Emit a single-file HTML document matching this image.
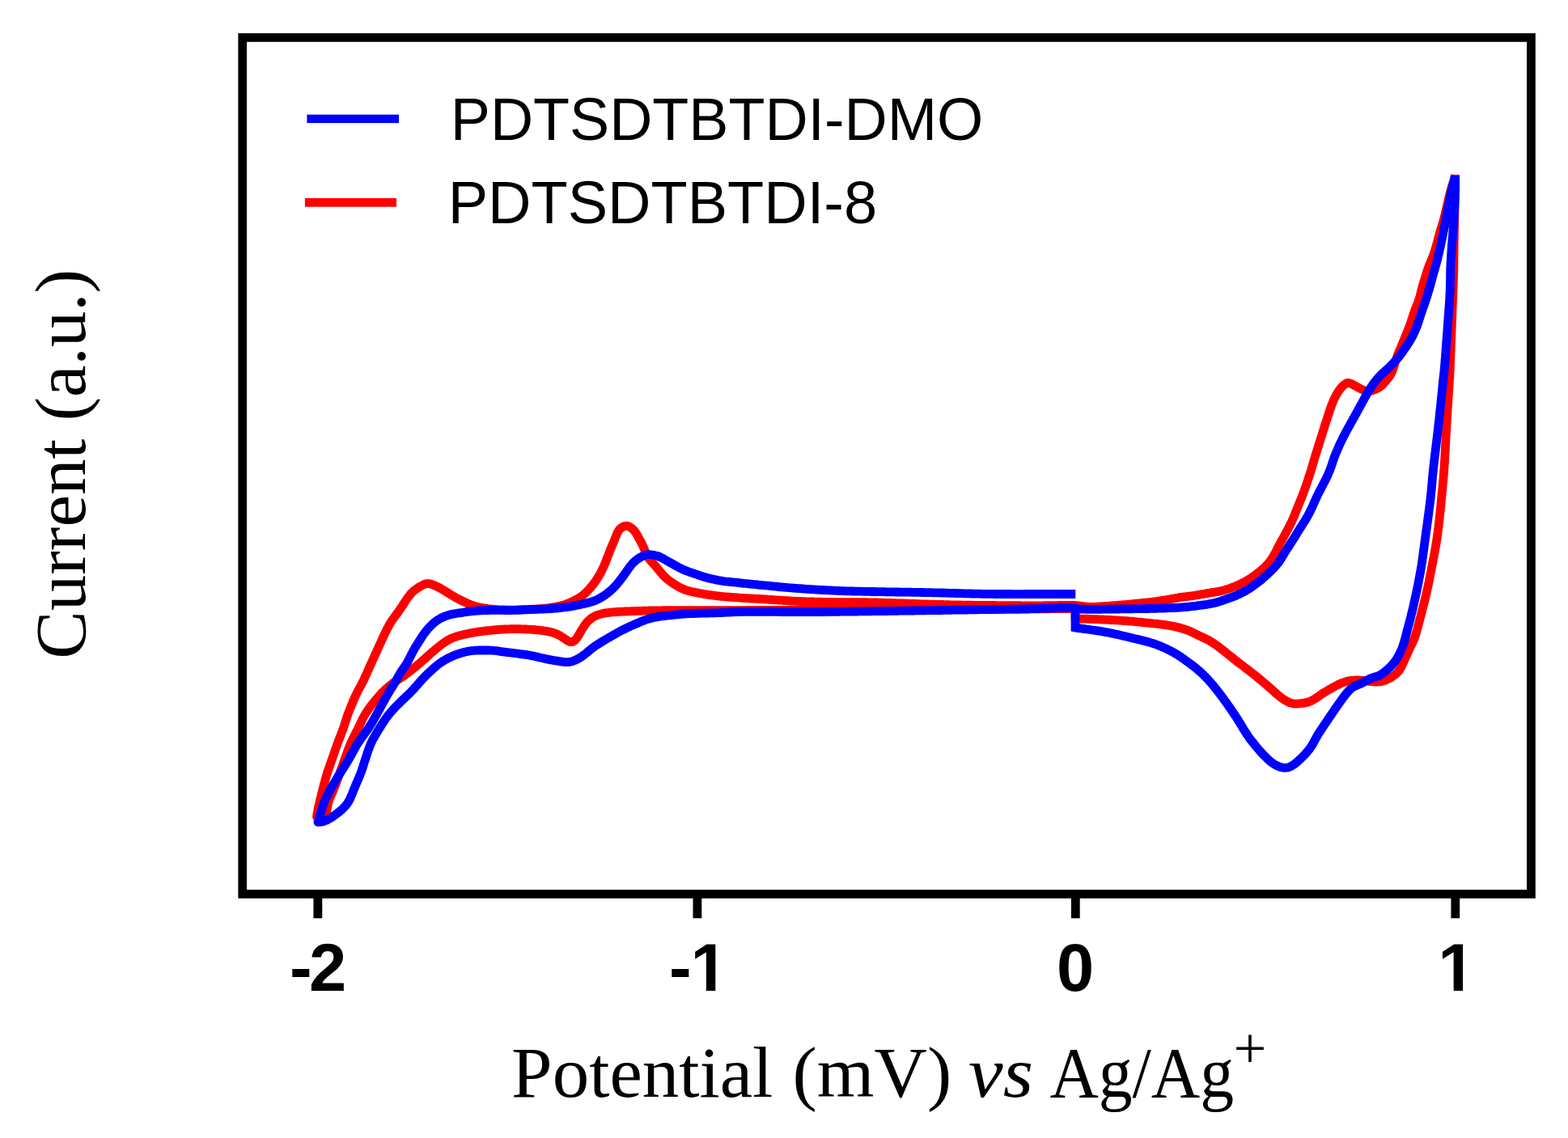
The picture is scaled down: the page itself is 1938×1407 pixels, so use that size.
<!DOCTYPE html>
<html><head><meta charset="utf-8"><title>Cyclic voltammetry: PDTSDTBTDI-DMO vs PDTSDTBTDI-8</title>
<style>
html,body{margin:0;padding:0;background:#fff;}
body{width:1938px;height:1407px;overflow:hidden;position:relative;}
svg{position:absolute;left:0;top:0;display:block;}
.leg{font-family:"Liberation Sans",Arial,sans-serif;font-size:74px;fill:#000;}
.tick{font-family:"Liberation Sans",Arial,sans-serif;font-weight:bold;font-size:83px;fill:#000;}
.lab{font-family:"Liberation Serif","Times New Roman",serif;font-size:89px;fill:#000;}
</style></head>
<body>
<svg width="1938" height="1407" viewBox="0 0 1938 1407">
<defs>
<clipPath id="one1"><rect x="800" y="1150" width="120" height="66"/><rect x="872.872" y="1214" width="11.388" height="16"/></clipPath>
<clipPath id="one2"><rect x="1740" y="1150" width="120" height="66"/><rect x="1796.672" y="1214" width="11.388" height="16"/></clipPath>
</defs>
<rect x="0" y="0" width="1938" height="1407" fill="#fff"/>
<g fill="none" stroke-width="10.8" stroke-linecap="butt">
<path d="M1798.5,216.0 1798.3,218.0 1797.9,219.9 1797.4,221.9 1796.8,223.8 1796.1,225.6 1795.5,227.5 1794.8,229.4 1794.2,231.3 1793.7,233.3 1793.1,235.2 1792.6,237.1 1792.1,239.0 1791.6,241.0 1791.1,242.9 1790.7,244.9 1790.2,246.8 1789.8,248.8 1789.3,250.7 1788.9,252.7 1788.4,254.6 1788.0,256.6 1787.5,258.5 1787.1,260.5 1786.6,262.4 1786.2,264.4 1785.7,266.3 1785.2,268.2 1784.7,270.2 1784.2,272.1 1783.7,274.0 1783.1,276.0 1782.5,277.9 1782.0,279.8 1781.4,281.7 1780.8,283.6 1780.2,285.5 1779.6,287.4 1779.1,289.4 1778.5,291.3 1778.0,293.2 1777.5,295.1 1777.0,297.1 1776.5,299.0 1776.0,300.9 1775.5,302.9 1774.9,304.8 1774.4,306.7 1773.8,308.6 1773.2,310.5 1772.6,312.4 1771.9,314.3 1771.3,316.2 1770.6,318.1 1769.8,320.0 1769.1,321.8 1768.3,323.6 1767.5,325.5 1766.7,327.3 1766.0,329.2 1765.3,331.0 1764.6,332.9 1764.0,334.8 1763.4,336.7 1762.8,338.6 1762.2,340.5 1761.6,342.4 1761.1,344.4 1760.5,346.3 1759.9,348.2 1759.3,350.1 1758.8,352.0 1758.2,353.9 1757.6,355.9 1757.1,357.8 1756.6,359.7 1756.2,361.7 1755.7,363.6 1755.2,365.5 1754.7,367.5 1754.2,369.4 1753.5,371.3 1752.9,373.1 1752.1,375.0 1751.4,376.8 1750.6,378.7 1749.9,380.5 1749.1,382.4 1748.4,384.3 1747.8,386.2 1747.1,388.0 1746.5,389.9 1745.9,391.9 1745.3,393.8 1744.7,395.7 1744.1,397.6 1743.4,399.5 1742.8,401.3 1742.1,403.2 1741.3,405.1 1740.6,406.9 1739.9,408.8 1739.1,410.6 1738.4,412.5 1737.6,414.4 1736.9,416.2 1736.1,418.1 1735.4,419.9 1734.6,421.8 1733.9,423.6 1733.1,425.5 1732.3,427.3 1731.6,429.2 1730.8,431.0 1730.0,432.8 1729.2,434.7 1728.4,436.5 1727.7,438.4 1727.0,440.2 1726.3,442.1 1725.7,444.0 1725.0,445.9 1724.4,447.8 1723.8,449.7 1723.2,451.6 1722.6,453.5 1722.0,455.4 1721.3,457.3 1720.7,459.2 1719.9,461.1 1719.0,462.8 1717.9,464.5 1716.7,466.1 1715.5,467.6 1714.3,469.2 1713.1,470.8 1711.8,472.3 1710.5,473.8 1709.2,475.3 1707.7,476.6 1706.2,477.9 1704.6,479.0 1702.9,479.9 1701.1,480.8 1699.3,481.6 1697.5,482.3 1695.6,482.9 1693.6,483.4 1691.7,483.8 1689.7,483.8 1687.8,483.4 1686.0,482.7 1684.2,481.9 1682.4,481.0 1680.6,480.1 1678.9,479.2 1677.1,478.2 1675.4,477.3 1673.6,476.3 1671.9,475.3 1670.1,474.5 1668.3,473.8 1666.4,473.4 1664.5,473.7 1662.8,474.7 1661.2,475.9 1659.7,477.2 1658.3,478.6 1657.0,480.1 1655.8,481.6 1654.7,483.2 1653.6,484.9 1652.5,486.6 1651.5,488.3 1650.6,490.1 1649.7,491.9 1648.9,493.7 1648.0,495.5 1647.3,497.4 1646.5,499.2 1645.8,501.1 1645.1,502.9 1644.4,504.8 1643.8,506.7 1643.1,508.6 1642.5,510.5 1641.9,512.4 1641.3,514.3 1640.7,516.2 1640.1,518.1 1639.5,520.0 1638.8,521.9 1638.2,523.8 1637.6,525.7 1637.0,527.6 1636.4,529.5 1635.8,531.5 1635.2,533.4 1634.6,535.3 1634.0,537.2 1633.4,539.1 1632.8,541.0 1632.2,542.9 1631.6,544.8 1631.0,546.7 1630.4,548.6 1629.8,550.5 1629.2,552.4 1628.6,554.4 1628.0,556.3 1627.4,558.2 1626.8,560.1 1626.2,562.0 1625.7,563.9 1625.1,565.8 1624.5,567.7 1623.9,569.7 1623.4,571.6 1622.8,573.5 1622.2,575.4 1621.7,577.3 1621.1,579.2 1620.5,581.2 1619.9,583.1 1619.3,585.0 1618.7,586.9 1618.1,588.8 1617.4,590.7 1616.8,592.6 1616.2,594.5 1615.5,596.4 1614.9,598.3 1614.2,600.2 1613.6,602.0 1612.9,603.9 1612.3,605.8 1611.6,607.7 1610.9,609.6 1610.2,611.4 1609.5,613.3 1608.7,615.2 1608.0,617.0 1607.2,618.9 1606.5,620.7 1605.7,622.6 1605.0,624.4 1604.2,626.3 1603.5,628.1 1602.7,630.0 1602.0,631.9 1601.2,633.7 1600.5,635.6 1599.8,637.4 1599.0,639.3 1598.2,641.1 1597.4,642.9 1596.6,644.8 1595.7,646.6 1594.8,648.4 1593.9,650.1 1593.0,651.9 1592.1,653.7 1591.1,655.4 1590.2,657.2 1589.2,659.0 1588.3,660.7 1587.3,662.5 1586.4,664.2 1585.4,666.0 1584.4,667.7 1583.4,669.5 1582.5,671.2 1581.5,673.0 1580.6,674.8 1579.7,676.5 1578.8,678.3 1577.9,680.1 1577.0,681.9 1576.1,683.7 1575.1,685.4 1574.1,687.2 1573.1,688.9 1572.0,690.6 1570.9,692.2 1569.8,693.8 1568.5,695.4 1567.3,696.9 1565.9,698.4 1564.5,699.8 1563.1,701.2 1561.7,702.6 1560.2,703.9 1558.7,705.3 1557.1,706.5 1555.6,707.8 1554.0,709.0 1552.4,710.3 1550.8,711.5 1549.2,712.6 1547.6,713.8 1545.9,714.9 1544.2,716.0 1542.5,717.0 1540.8,718.0 1539.1,719.0 1537.3,719.9 1535.5,720.8 1533.7,721.7 1531.9,722.6 1530.1,723.4 1528.3,724.2 1526.4,725.0 1524.6,725.7 1522.7,726.4 1520.8,727.1 1519.0,727.8 1517.1,728.4 1515.2,729.0 1513.2,729.6 1511.3,730.1 1509.4,730.6 1507.4,731.0 1505.5,731.4 1503.5,731.7 1501.5,732.1 1499.5,732.4 1497.6,732.7 1495.6,733.0 1493.6,733.3 1491.6,733.6 1489.7,734.0 1487.7,734.3 1485.7,734.7 1483.8,735.0 1481.8,735.4 1479.8,735.7 1477.9,736.0 1475.9,736.3 1473.9,736.6 1471.9,736.8 1469.9,737.1 1467.9,737.3 1466.0,737.6 1464.0,737.8 1462.0,738.1 1460.0,738.4 1458.0,738.7 1456.1,739.0 1454.1,739.4 1452.1,739.7 1450.2,740.1 1448.2,740.4 1446.2,740.8 1444.3,741.1 1442.3,741.5 1440.3,741.8 1438.3,742.1 1436.4,742.4 1434.4,742.7 1432.4,743.0 1430.4,743.3 1428.5,743.6 1426.5,743.8 1424.5,744.1 1422.5,744.3 1420.5,744.6 1418.5,744.8 1416.5,745.0 1414.6,745.2 1412.6,745.4 1410.6,745.6 1408.6,745.8 1406.6,746.0 1404.6,746.2 1402.6,746.4 1400.6,746.6 1398.6,746.8 1396.6,747.0 1394.6,747.2 1392.7,747.3 1390.7,747.5 1388.7,747.7 1386.7,747.9 1384.7,748.1 1382.7,748.2 1380.7,748.4 1378.7,748.6 1376.7,748.7 1374.7,748.9 1372.7,749.0 1370.7,749.2 1368.7,749.3 1366.7,749.5 1364.7,749.6 1362.7,749.7 1360.8,749.9 1358.8,750.0 1356.8,750.1 1354.8,750.2 1352.8,750.3 1350.8,750.3 1348.8,750.3 1346.8,750.3 1344.8,750.2 1342.8,750.0 1340.8,749.8 1338.9,749.6 1336.9,749.3 1334.9,749.0 1332.9,748.8 1330.9,748.6 1328.9,748.5 1326.9,748.5 1324.9,748.5 1322.9,748.5 1320.9,748.5 1318.9,748.5 1316.9,748.5 1314.9,748.5 1312.9,748.5 1310.9,748.5 1308.9,748.5 1306.9,748.6 1304.9,748.6 1302.9,748.6 1300.9,748.6 1298.9,748.7 1296.9,748.7 1294.9,748.7 1292.9,748.7 1290.9,748.7 1288.9,748.8 1286.9,748.8 1284.9,748.8 1282.9,748.8 1280.9,748.8 1278.9,748.8 1276.9,748.8 1274.9,748.8 1272.9,748.8 1270.9,748.8 1268.9,748.8 1266.9,748.8 1264.9,748.8 1262.9,748.8 1260.9,748.7 1258.9,748.7 1256.9,748.7 1254.9,748.7 1252.9,748.7 1250.9,748.7 1248.9,748.7 1246.9,748.7 1244.9,748.7 1242.9,748.7 1240.9,748.6 1238.9,748.6 1236.9,748.6 1234.9,748.6 1232.9,748.6 1230.9,748.6 1228.9,748.5 1226.9,748.5 1224.9,748.5 1222.9,748.5 1220.9,748.5 1218.9,748.5 1216.9,748.4 1214.9,748.4 1212.9,748.4 1210.9,748.4 1208.9,748.3 1206.9,748.3 1204.9,748.3 1202.9,748.3 1200.9,748.2 1198.9,748.2 1196.9,748.2 1194.9,748.2 1192.9,748.1 1190.9,748.1 1189.0,748.1 1187.0,748.0 1185.0,748.0 1183.0,747.9 1181.0,747.9 1179.0,747.9 1177.0,747.8 1175.0,747.8 1173.0,747.7 1171.0,747.7 1169.0,747.6 1167.0,747.6 1165.0,747.5 1163.0,747.5 1161.0,747.4 1159.0,747.4 1157.0,747.3 1155.0,747.2 1153.0,747.2 1151.0,747.1 1149.0,747.1 1147.0,747.0 1145.0,746.9 1143.0,746.9 1141.0,746.8 1139.0,746.8 1137.0,746.7 1135.0,746.6 1133.0,746.6 1131.0,746.5 1129.0,746.4 1127.0,746.4 1125.0,746.3 1123.0,746.2 1121.0,746.2 1119.0,746.1 1117.0,746.0 1115.0,746.0 1113.0,745.9 1111.0,745.8 1109.0,745.8 1107.0,745.7 1105.0,745.6 1103.0,745.6 1101.0,745.5 1099.0,745.4 1097.0,745.4 1095.0,745.3 1093.0,745.3 1091.0,745.2 1089.0,745.1 1087.0,745.1 1085.0,745.0 1083.0,745.0 1081.0,744.9 1079.0,744.9 1077.0,744.9 1075.0,744.8 1073.0,744.8 1071.0,744.7 1069.0,744.7 1067.0,744.7 1065.0,744.7 1063.0,744.7 1061.0,744.7 1059.0,744.7 1057.0,744.6 1055.0,744.7 1053.0,744.7 1051.0,744.7 1049.0,744.7 1047.0,744.7 1045.0,744.7 1043.0,744.7 1041.0,744.6 1039.0,744.6 1037.0,744.6 1035.0,744.6 1033.0,744.6 1031.0,744.5 1029.0,744.5 1027.0,744.5 1025.0,744.4 1023.0,744.4 1021.0,744.4 1019.0,744.3 1017.0,744.3 1015.0,744.2 1013.0,744.2 1011.0,744.1 1009.0,744.1 1007.0,744.1 1005.0,744.0 1003.0,744.0 1001.0,743.9 999.0,743.8 997.0,743.8 995.0,743.7 993.0,743.7 991.0,743.6 989.0,743.5 987.0,743.4 985.0,743.4 983.0,743.3 981.0,743.2 979.0,743.1 977.0,743.0 975.0,742.9 973.0,742.7 971.0,742.6 969.0,742.5 967.0,742.4 965.0,742.2 963.1,742.1 961.1,742.0 959.1,741.8 957.1,741.7 955.1,741.5 953.1,741.4 951.1,741.3 949.1,741.1 947.1,741.0 945.1,740.9 943.1,740.7 941.1,740.6 939.1,740.5 937.1,740.4 935.1,740.3 933.1,740.2 931.1,740.1 929.1,740.0 927.1,739.9 925.1,739.8 923.1,739.7 921.1,739.6 919.1,739.5 917.1,739.3 915.2,739.2 913.2,739.0 911.2,738.8 909.2,738.7 907.2,738.6 905.2,738.4 903.2,738.3 901.2,738.1 899.2,738.0 897.2,737.8 895.2,737.7 893.2,737.5 891.2,737.3 889.2,737.1 887.2,736.9 885.3,736.7 883.3,736.4 881.3,736.2 879.3,735.9 877.3,735.6 875.4,735.3 873.4,735.0 871.4,734.7 869.4,734.4 867.5,734.0 865.5,733.7 863.5,733.3 861.6,732.9 859.6,732.5 857.6,732.1 855.7,731.7 853.7,731.3 851.8,730.8 849.9,730.3 848.0,729.7 846.1,729.0 844.3,728.2 842.5,727.4 840.7,726.5 838.9,725.6 837.2,724.6 835.5,723.6 833.8,722.5 832.1,721.4 830.4,720.3 828.8,719.2 827.2,718.0 825.6,716.8 824.1,715.5 822.6,714.2 821.2,712.8 819.8,711.4 818.5,709.9 817.2,708.3 815.9,706.8 814.7,705.2 813.4,703.7 812.2,702.1 810.9,700.6 809.6,699.1 808.2,697.6 806.9,696.1 805.6,694.6 804.2,693.2 802.9,691.7 801.7,690.1 800.5,688.5 799.5,686.8 798.7,685.0 798.0,683.1 797.2,681.3 796.5,679.4 795.7,677.6 794.9,675.7 794.1,673.9 793.3,672.1 792.3,670.3 791.4,668.6 790.4,666.8 789.5,665.1 788.5,663.4 787.6,661.6 786.6,659.9 785.5,658.2 784.4,656.7 783.1,655.2 781.6,653.8 780.1,652.6 778.4,651.5 776.7,650.6 774.8,650.1 772.9,650.3 771.0,650.8 769.2,651.7 767.6,652.8 766.1,654.1 764.9,655.5 763.9,657.2 763.0,658.9 762.2,660.7 761.5,662.5 760.7,664.4 760.0,666.2 759.3,668.1 758.5,669.9 757.7,671.8 756.9,673.6 756.1,675.5 755.4,677.3 754.6,679.1 753.9,681.0 753.1,682.9 752.4,684.7 751.7,686.6 751.0,688.5 750.3,690.3 749.6,692.2 748.9,694.1 748.1,695.9 747.4,697.8 746.6,699.6 745.8,701.4 744.9,703.2 744.0,705.0 743.1,706.8 742.2,708.6 741.2,710.3 740.2,712.1 739.2,713.8 738.1,715.5 737.0,717.1 735.9,718.8 734.7,720.4 733.5,722.0 732.3,723.6 731.0,725.1 729.7,726.6 728.4,728.2 727.1,729.6 725.7,731.1 724.3,732.5 722.9,733.9 721.4,735.2 719.8,736.4 718.2,737.6 716.6,738.7 714.9,739.7 713.1,740.8 711.4,741.7 709.6,742.6 707.8,743.5 706.0,744.3 704.2,745.1 702.3,745.9 700.5,746.6 698.6,747.3 696.7,747.9 694.8,748.4 692.8,748.9 690.9,749.4 688.9,749.8 687.0,750.2 685.0,750.5 683.0,750.9 681.1,751.2 679.1,751.5 677.1,751.8 675.1,752.0 673.1,752.2 671.2,752.4 669.2,752.5 667.2,752.7 665.2,752.8 663.2,752.9 661.2,753.1 659.2,753.2 657.2,753.3 655.2,753.4 653.2,753.5 651.2,753.6 649.2,753.7 647.2,753.7 645.2,753.8 643.2,753.9 641.2,754.0 639.2,754.0 637.2,754.1 635.2,754.1 633.2,754.1 631.2,754.1 629.2,754.1 627.2,754.1 625.2,754.1 623.2,754.0 621.2,754.0 619.2,753.9 617.2,753.8 615.2,753.7 613.2,753.5 611.2,753.4 609.2,753.2 607.2,753.0 605.3,752.8 603.3,752.6 601.3,752.3 599.3,752.0 597.3,751.7 595.4,751.4 593.4,751.0 591.4,750.6 589.5,750.2 587.6,749.6 585.7,749.0 583.8,748.4 581.9,747.7 580.1,746.9 578.3,746.1 576.4,745.3 574.6,744.5 572.8,743.7 571.0,742.8 569.2,741.9 567.4,741.0 565.6,740.1 563.9,739.2 562.1,738.2 560.4,737.2 558.7,736.2 557.0,735.1 555.3,734.1 553.6,733.0 551.9,731.9 550.2,730.9 548.5,729.8 546.8,728.8 545.1,727.8 543.3,726.8 541.5,725.9 539.8,725.0 538.0,724.2 536.1,723.4 534.3,722.7 532.4,722.1 530.5,721.7 528.5,721.5 526.6,721.7 524.8,722.3 523.0,723.1 521.2,724.1 519.5,725.0 517.7,726.0 516.1,727.1 514.4,728.3 512.8,729.4 511.3,730.7 509.8,732.0 508.4,733.4 507.1,734.9 505.9,736.5 504.7,738.0 503.5,739.7 502.4,741.3 501.2,743.0 500.2,744.6 499.1,746.3 498.0,748.0 496.9,749.7 495.8,751.3 494.7,753.0 493.5,754.6 492.4,756.3 491.2,757.9 490.0,759.5 488.9,761.1 487.7,762.7 486.5,764.4 485.3,766.0 484.2,767.6 483.1,769.3 482.1,771.0 481.0,772.7 480.1,774.5 479.1,776.2 478.2,778.0 477.3,779.8 476.5,781.6 475.6,783.4 474.8,785.2 473.9,787.0 473.1,788.8 472.2,790.7 471.4,792.5 470.6,794.3 469.7,796.1 468.9,797.9 468.1,799.7 467.2,801.6 466.4,803.4 465.6,805.2 464.8,807.0 463.9,808.8 463.1,810.7 462.3,812.5 461.5,814.3 460.6,816.1 459.8,818.0 459.0,819.8 458.2,821.6 457.3,823.4 456.5,825.3 455.7,827.1 454.9,828.9 454.1,830.7 453.3,832.6 452.5,834.4 451.6,836.2 450.8,838.0 450.0,839.8 449.1,841.6 448.2,843.4 447.3,845.2 446.3,847.0 445.4,848.7 444.4,850.5 443.5,852.2 442.5,854.0 441.6,855.8 440.7,857.6 439.9,859.4 439.0,861.2 438.2,863.0 437.4,864.8 436.6,866.7 435.9,868.5 435.1,870.4 434.3,872.2 433.6,874.1 432.8,875.9 432.1,877.8 431.3,879.6 430.6,881.5 429.9,883.4 429.2,885.3 428.6,887.1 428.0,889.1 427.4,891.0 426.8,892.9 426.2,894.8 425.6,896.7 425.0,898.6 424.3,900.5 423.6,902.4 423.0,904.2 422.2,906.1 421.5,908.0 420.8,909.8 420.1,911.7 419.3,913.5 418.6,915.4 417.9,917.3 417.2,919.2 416.5,921.0 415.9,922.9 415.2,924.8 414.5,926.7 413.9,928.6 413.2,930.5 412.6,932.4 411.9,934.3 411.3,936.1 410.6,938.0 409.9,939.9 409.3,941.8 408.6,943.7 407.9,945.6 407.3,947.5 406.6,949.3 406.0,951.2 405.3,953.1 404.7,955.0 404.1,956.9 403.5,958.9 403.0,960.8 402.4,962.7 401.9,964.6 401.4,966.6 400.8,968.5 400.3,970.4 399.8,972.4 399.3,974.3 398.8,976.2 398.3,978.2 397.8,980.1 397.3,982.0 396.9,984.0 396.4,985.9 395.9,987.9 395.4,989.8 395.0,991.8 394.5,993.7 394.1,995.7 393.6,997.6 393.2,999.6 392.8,1001.5 392.5,1003.5 392.1,1005.4 391.8,1007.3 391.6,1009.0 391.5,1010.0 L391.5,1010.0 393.5,1010.1 395.5,1010.2 397.4,1010.0 399.3,1009.4 400.8,1008.4 402.0,1007.1 402.8,1005.6 403.5,1003.8 403.9,1002.0 404.2,1000.1 404.6,998.1 404.9,996.2 405.3,994.3 405.8,992.3 406.4,990.4 407.0,988.5 407.7,986.7 408.5,984.8 409.3,983.0 410.1,981.2 410.9,979.3 411.7,977.5 412.5,975.7 413.2,973.8 414.0,972.0 414.7,970.1 415.4,968.2 416.1,966.4 416.8,964.5 417.5,962.6 418.1,960.7 418.8,958.8 419.5,956.9 420.2,955.1 420.8,953.2 421.5,951.3 422.2,949.4 422.9,947.5 423.6,945.7 424.2,943.8 424.9,941.9 425.6,940.0 426.3,938.1 427.0,936.2 427.6,934.4 428.3,932.5 429.0,930.6 429.7,928.7 430.4,926.8 431.1,925.0 431.8,923.1 432.6,921.3 433.3,919.4 434.1,917.6 435.0,915.8 435.8,914.0 436.7,912.2 437.6,910.4 438.5,908.6 439.4,906.8 440.4,905.1 441.3,903.3 442.2,901.5 443.0,899.7 443.9,897.9 444.8,896.1 445.6,894.3 446.5,892.5 447.3,890.7 448.2,888.9 449.1,887.1 450.1,885.3 451.1,883.6 452.1,881.9 453.2,880.2 454.3,878.6 455.4,876.9 456.6,875.3 457.7,873.7 458.9,872.1 460.2,870.5 461.5,869.0 462.7,867.4 464.0,865.9 465.3,864.4 466.6,862.9 467.9,861.3 469.2,859.8 470.5,858.3 471.8,856.8 473.2,855.4 474.6,854.0 476.1,852.7 477.6,851.3 479.1,850.0 480.6,848.7 482.2,847.4 483.7,846.2 485.3,844.9 486.9,843.7 488.5,842.6 490.2,841.5 491.8,840.4 493.5,839.3 495.2,838.3 496.9,837.2 498.5,836.0 500.1,834.9 501.7,833.7 503.3,832.5 504.9,831.2 506.5,830.0 508.1,828.8 509.6,827.5 511.2,826.3 512.7,825.0 514.3,823.7 515.8,822.5 517.3,821.2 518.9,819.9 520.4,818.6 521.9,817.2 523.4,815.9 524.9,814.6 526.4,813.3 527.8,811.9 529.3,810.6 530.8,809.3 532.3,807.9 533.8,806.6 535.4,805.3 536.9,804.0 538.4,802.7 540.0,801.5 541.5,800.2 543.1,799.0 544.6,797.7 546.2,796.5 547.8,795.3 549.5,794.2 551.1,793.1 552.8,792.0 554.6,791.0 556.3,790.1 558.1,789.2 559.9,788.5 561.8,787.8 563.7,787.1 565.6,786.5 567.5,786.0 569.4,785.5 571.4,785.0 573.3,784.6 575.3,784.1 577.2,783.7 579.2,783.3 581.2,782.9 583.1,782.5 585.1,782.1 587.1,781.8 589.0,781.5 591.0,781.2 593.0,780.9 595.0,780.6 596.9,780.4 598.9,780.1 600.9,779.9 602.9,779.7 604.9,779.5 606.9,779.3 608.9,779.1 610.9,778.9 612.9,778.7 614.9,778.5 616.8,778.4 618.8,778.2 620.8,778.1 622.8,778.0 624.8,777.9 626.8,777.8 628.8,777.8 630.8,777.7 632.8,777.7 634.8,777.7 636.8,777.7 638.8,777.7 640.8,777.7 642.8,777.7 644.8,777.8 646.8,777.8 648.8,777.9 650.8,778.0 652.8,778.1 654.8,778.2 656.8,778.3 658.8,778.4 660.8,778.6 662.8,778.8 664.8,779.0 666.8,779.2 668.7,779.5 670.7,779.7 672.7,780.0 674.7,780.3 676.7,780.6 678.6,781.0 680.6,781.4 682.5,781.9 684.4,782.5 686.3,783.2 688.1,783.9 689.9,784.8 691.6,785.7 693.3,786.7 695.0,787.8 696.7,788.9 698.3,790.0 700.0,791.1 701.6,792.2 703.4,793.1 705.2,793.7 707.1,793.6 708.9,792.9 710.5,791.8 711.8,790.4 713.0,788.8 714.1,787.1 715.1,785.4 716.1,783.7 717.1,782.0 718.1,780.3 719.1,778.6 720.2,776.9 721.3,775.2 722.4,773.5 723.5,771.9 724.7,770.3 726.0,768.8 727.4,767.4 728.8,766.1 730.4,764.8 732.0,763.7 733.7,762.7 735.4,761.8 737.2,761.0 739.1,760.2 741.0,759.6 742.9,759.1 744.8,758.6 746.8,758.2 748.7,757.9 750.7,757.6 752.7,757.4 754.7,757.1 756.7,756.9 758.7,756.8 760.6,756.6 762.6,756.5 764.6,756.4 766.6,756.3 768.6,756.2 770.6,756.1 772.6,756.0 774.6,755.9 776.6,755.9 778.6,755.8 780.6,755.7 782.6,755.7 784.6,755.6 786.6,755.5 788.6,755.4 790.6,755.4 792.6,755.3 794.6,755.2 796.6,755.2 798.6,755.1 800.6,755.1 802.6,755.0 804.6,755.0 806.6,755.0 808.6,754.9 810.6,754.9 812.6,754.8 814.6,754.8 816.6,754.8 818.6,754.7 820.6,754.7 822.6,754.7 824.6,754.7 826.6,754.7 828.6,754.6 830.6,754.6 832.6,754.6 834.6,754.6 836.6,754.6 838.6,754.6 840.6,754.6 842.6,754.6 844.6,754.6 846.6,754.6 848.6,754.6 850.6,754.6 852.6,754.6 854.6,754.6 856.6,754.6 858.6,754.6 860.6,754.6 862.6,754.6 864.6,754.6 866.6,754.6 868.6,754.6 870.6,754.6 872.6,754.6 874.6,754.6 876.6,754.6 878.6,754.6 880.6,754.6 882.6,754.6 884.6,754.6 886.6,754.6 888.6,754.6 890.6,754.6 892.6,754.6 894.6,754.6 896.6,754.6 898.6,754.6 900.6,754.6 902.6,754.6 904.6,754.6 906.6,754.6 908.6,754.6 910.6,754.6 912.6,754.6 914.6,754.6 916.6,754.6 918.6,754.6 920.6,754.6 922.6,754.5 924.6,754.5 926.6,754.5 928.6,754.5 930.6,754.5 932.6,754.5 934.6,754.5 936.6,754.5 938.6,754.5 940.6,754.5 942.6,754.5 944.6,754.5 946.6,754.5 948.6,754.5 950.6,754.5 952.6,754.5 954.6,754.4 956.6,754.4 958.6,754.4 960.6,754.4 962.6,754.4 964.6,754.4 966.6,754.4 968.6,754.4 970.6,754.4 972.6,754.4 974.6,754.4 976.6,754.4 978.6,754.4 980.6,754.4 982.6,754.4 984.6,754.3 986.6,754.3 988.6,754.3 990.6,754.3 992.6,754.3 994.6,754.3 996.6,754.3 998.6,754.3 1000.6,754.3 1002.6,754.3 1004.6,754.3 1006.6,754.3 1008.6,754.3 1010.6,754.3 1012.6,754.3 1014.6,754.3 1016.6,754.3 1018.6,754.2 1020.6,754.2 1022.6,754.2 1024.6,754.2 1026.6,754.2 1028.6,754.2 1030.6,754.2 1032.6,754.2 1034.6,754.2 1036.6,754.2 1038.6,754.2 1040.6,754.2 1042.6,754.2 1044.6,754.2 1046.6,754.2 1048.6,754.2 1050.6,754.2 1052.6,754.2 1054.6,754.1 1056.6,754.1 1058.6,754.1 1060.6,754.1 1062.6,754.1 1064.6,754.1 1066.6,754.1 1068.6,754.1 1070.6,754.1 1072.6,754.1 1074.6,754.1 1076.6,754.1 1078.6,754.1 1080.6,754.1 1082.6,754.1 1084.6,754.1 1086.6,754.0 1088.6,754.0 1090.6,754.0 1092.6,754.0 1094.6,754.0 1096.6,754.0 1098.6,754.0 1100.6,754.0 1102.6,754.0 1104.6,754.0 1106.6,754.0 1108.6,754.0 1110.6,754.0 1112.6,753.9 1114.6,753.9 1116.6,753.9 1118.6,753.9 1120.6,753.9 1122.6,753.9 1124.6,753.9 1126.6,753.9 1128.6,753.9 1130.6,753.9 1132.6,753.9 1134.6,753.8 1136.6,753.8 1138.6,753.8 1140.6,753.8 1142.6,753.8 1144.6,753.8 1146.6,753.8 1148.6,753.8 1150.6,753.8 1152.6,753.8 1154.6,753.7 1156.6,753.7 1158.6,753.7 1160.6,753.7 1162.6,753.7 1164.6,753.7 1166.6,753.7 1168.6,753.7 1170.6,753.7 1172.6,753.7 1174.6,753.6 1176.6,753.6 1178.6,753.6 1180.6,753.6 1182.6,753.6 1184.6,753.6 1186.6,753.6 1188.6,753.6 1190.6,753.6 1192.6,753.5 1194.6,753.5 1196.6,753.5 1198.6,753.5 1200.6,753.5 1202.6,753.5 1204.6,753.5 1206.6,753.5 1208.6,753.4 1210.6,753.4 1212.6,753.4 1214.6,753.4 1216.6,753.4 1218.6,753.4 1220.6,753.4 1222.6,753.3 1224.6,753.3 1226.6,753.3 1228.6,753.3 1230.6,753.3 1232.6,753.3 1234.6,753.3 1236.6,753.2 1238.6,753.2 1240.6,753.2 1242.6,753.2 1244.6,753.2 1246.6,753.2 1248.6,753.1 1250.6,753.1 1252.6,753.1 1254.6,753.1 1256.6,753.1 1258.6,753.1 1260.6,753.1 1262.6,753.0 1264.6,753.0 1266.6,753.0 1268.6,753.0 1270.6,753.0 1272.6,753.0 1274.6,752.9 1276.6,752.9 1278.6,752.9 1280.6,752.9 1282.6,752.9 1284.6,752.9 1286.6,752.8 1288.6,752.8 1290.6,752.8 1292.6,752.8 1294.6,752.8 1296.6,752.8 1298.6,752.7 1300.6,752.7 1302.6,752.7 1304.6,752.7 1306.6,752.7 1308.6,752.7 1310.6,752.7 1312.6,752.6 1314.6,752.6 1316.6,752.6 1318.6,752.6 1320.6,752.6 1322.6,752.6 1324.5,752.5 1326.5,752.5 1328.1,752.5 1329.0,752.5 L1329.0,752.5 1329.0,765.1 L1329.0,765.1 1331.0,765.1 1333.0,765.1 1335.0,765.1 1337.0,765.1 1339.0,765.1 1341.0,765.2 1343.0,765.2 1345.0,765.3 1347.0,765.3 1349.0,765.4 1351.0,765.5 1353.0,765.6 1355.0,765.6 1357.0,765.7 1359.0,765.8 1361.0,765.9 1363.0,766.0 1365.0,766.1 1367.0,766.2 1369.0,766.3 1371.0,766.4 1373.0,766.5 1375.0,766.6 1377.0,766.7 1379.0,766.8 1381.0,766.9 1383.0,767.1 1384.9,767.2 1386.9,767.3 1388.9,767.5 1390.9,767.6 1392.9,767.7 1394.9,767.9 1396.9,768.1 1398.9,768.2 1400.9,768.4 1402.9,768.6 1404.9,768.8 1406.9,769.0 1408.9,769.2 1410.9,769.4 1412.8,769.6 1414.8,769.8 1416.8,770.0 1418.8,770.2 1420.8,770.4 1422.8,770.6 1424.8,770.8 1426.8,771.0 1428.8,771.2 1430.7,771.4 1432.7,771.7 1434.7,771.9 1436.7,772.2 1438.7,772.4 1440.7,772.7 1442.6,773.0 1444.6,773.3 1446.6,773.7 1448.5,774.0 1450.5,774.4 1452.5,774.8 1454.4,775.3 1456.3,775.8 1458.3,776.3 1460.2,776.8 1462.1,777.4 1464.0,778.0 1465.9,778.6 1467.8,779.3 1469.7,780.0 1471.5,780.8 1473.3,781.6 1475.1,782.5 1476.9,783.4 1478.7,784.3 1480.5,785.2 1482.3,786.0 1484.1,786.9 1485.9,787.7 1487.7,788.5 1489.5,789.4 1491.3,790.3 1493.1,791.2 1494.8,792.2 1496.5,793.2 1498.2,794.3 1499.9,795.4 1501.6,796.5 1503.2,797.6 1504.8,798.8 1506.4,799.9 1508.0,801.1 1509.6,802.4 1511.2,803.6 1512.8,804.8 1514.3,806.1 1515.9,807.3 1517.4,808.6 1519.0,809.9 1520.5,811.1 1522.1,812.4 1523.7,813.6 1525.2,814.9 1526.8,816.1 1528.4,817.3 1529.9,818.6 1531.5,819.8 1533.1,821.0 1534.7,822.2 1536.3,823.4 1537.9,824.7 1539.5,825.9 1541.1,827.1 1542.7,828.3 1544.2,829.5 1545.8,830.7 1547.4,832.0 1549.0,833.2 1550.5,834.5 1552.1,835.7 1553.6,837.0 1555.2,838.3 1556.7,839.5 1558.3,840.8 1559.8,842.1 1561.3,843.4 1562.9,844.7 1564.4,845.9 1565.9,847.2 1567.4,848.6 1568.9,849.9 1570.4,851.2 1571.9,852.5 1573.4,853.9 1574.9,855.2 1576.3,856.6 1577.8,857.9 1579.4,859.2 1580.9,860.5 1582.5,861.7 1584.0,862.9 1585.7,864.1 1587.3,865.2 1589.0,866.2 1590.8,867.1 1592.5,868.0 1594.3,868.8 1596.2,869.4 1598.1,869.9 1600.1,870.1 1602.1,870.2 1604.1,870.1 1606.1,869.9 1608.1,869.7 1610.0,869.5 1612.0,869.2 1613.9,868.7 1615.9,868.2 1617.7,867.7 1619.6,867.0 1621.4,866.1 1623.1,865.2 1624.8,864.2 1626.5,863.1 1628.1,862.0 1629.8,860.8 1631.4,859.7 1633.0,858.5 1634.7,857.4 1636.4,856.3 1638.1,855.3 1639.8,854.3 1641.5,853.3 1643.3,852.3 1645.0,851.3 1646.8,850.3 1648.5,849.4 1650.3,848.4 1652.0,847.5 1653.8,846.6 1655.6,845.7 1657.4,844.9 1659.3,844.1 1661.1,843.5 1663.0,842.9 1665.0,842.3 1666.9,841.9 1668.9,841.6 1670.8,841.3 1672.8,841.1 1674.8,841.0 1676.8,841.0 1678.8,841.0 1680.8,841.1 1682.8,841.2 1684.7,841.4 1686.7,841.7 1688.7,841.9 1690.7,842.2 1692.7,842.4 1694.7,842.7 1696.6,842.8 1698.6,843.0 1700.6,843.1 1702.6,843.0 1704.6,842.9 1706.6,842.6 1708.5,842.2 1710.5,841.7 1712.3,841.0 1714.2,840.2 1715.9,839.4 1717.7,838.5 1719.4,837.5 1721.1,836.4 1722.7,835.3 1724.3,834.1 1725.8,832.8 1727.2,831.4 1728.5,829.9 1729.7,828.4 1730.7,826.7 1731.7,825.0 1732.6,823.2 1733.4,821.4 1734.3,819.6 1735.1,817.8 1735.9,816.0 1736.7,814.1 1737.5,812.3 1738.4,810.5 1739.2,808.7 1740.0,806.8 1740.8,805.0 1741.7,803.2 1742.5,801.4 1743.4,799.6 1744.2,797.8 1745.1,796.0 1746.0,794.2 1746.8,792.4 1747.6,790.6 1748.3,788.7 1749.0,786.8 1749.6,784.9 1750.2,783.0 1750.7,781.1 1751.3,779.2 1751.8,777.3 1752.3,775.3 1752.8,773.4 1753.4,771.5 1753.9,769.5 1754.4,767.6 1754.9,765.7 1755.4,763.7 1755.9,761.8 1756.4,759.9 1756.9,757.9 1757.4,756.0 1757.9,754.0 1758.4,752.1 1758.9,750.2 1759.4,748.2 1759.9,746.3 1760.4,744.4 1760.9,742.4 1761.3,740.5 1761.8,738.5 1762.3,736.6 1762.7,734.6 1763.2,732.7 1763.6,730.7 1764.1,728.8 1764.5,726.8 1764.9,724.9 1765.4,722.9 1765.8,721.0 1766.2,719.0 1766.6,717.1 1767.0,715.1 1767.3,713.1 1767.7,711.2 1768.1,709.2 1768.5,707.2 1768.9,705.3 1769.2,703.3 1769.6,701.4 1770.0,699.4 1770.4,697.4 1770.8,695.5 1771.1,693.5 1771.5,691.5 1771.9,689.6 1772.3,687.6 1772.7,685.6 1773.0,683.7 1773.4,681.7 1773.7,679.7 1774.1,677.8 1774.4,675.8 1774.8,673.8 1775.1,671.9 1775.4,669.9 1775.7,667.9 1776.0,665.9 1776.3,663.9 1776.6,662.0 1776.9,660.0 1777.1,658.0 1777.4,656.0 1777.6,654.0 1777.9,652.1 1778.1,650.1 1778.3,648.1 1778.6,646.1 1778.8,644.1 1779.0,642.1 1779.2,640.1 1779.5,638.1 1779.7,636.2 1779.9,634.2 1780.1,632.2 1780.3,630.2 1780.5,628.2 1780.7,626.2 1780.9,624.2 1781.1,622.2 1781.2,620.2 1781.4,618.2 1781.6,616.2 1781.8,614.3 1782.0,612.3 1782.2,610.3 1782.4,608.3 1782.6,606.3 1782.8,604.3 1783.0,602.3 1783.1,600.3 1783.3,598.3 1783.5,596.3 1783.7,594.3 1783.9,592.4 1784.1,590.4 1784.2,588.4 1784.4,586.4 1784.6,584.4 1784.7,582.4 1784.9,580.4 1785.0,578.4 1785.1,576.4 1785.2,574.4 1785.4,572.4 1785.5,570.4 1785.6,568.4 1785.7,566.4 1785.8,564.4 1785.9,562.4 1786.1,560.4 1786.2,558.4 1786.3,556.4 1786.4,554.4 1786.5,552.4 1786.6,550.4 1786.7,548.5 1786.8,546.5 1786.9,544.5 1787.0,542.5 1787.1,540.5 1787.2,538.5 1787.4,536.5 1787.5,534.5 1787.6,532.5 1787.7,530.5 1787.8,528.5 1787.9,526.5 1788.0,524.5 1788.2,522.5 1788.3,520.5 1788.4,518.5 1788.5,516.5 1788.6,514.5 1788.8,512.5 1788.9,510.5 1789.0,508.5 1789.1,506.5 1789.3,504.5 1789.4,502.5 1789.5,500.5 1789.7,498.5 1789.8,496.5 1789.9,494.5 1790.0,492.6 1790.2,490.6 1790.3,488.6 1790.4,486.6 1790.5,484.6 1790.7,482.6 1790.8,480.6 1790.9,478.6 1791.0,476.6 1791.2,474.6 1791.3,472.6 1791.4,470.6 1791.5,468.6 1791.7,466.6 1791.8,464.6 1791.9,462.6 1792.0,460.6 1792.1,458.6 1792.2,456.6 1792.3,454.6 1792.4,452.6 1792.4,450.6 1792.5,448.6 1792.6,446.6 1792.7,444.6 1792.8,442.6 1792.8,440.6 1792.9,438.6 1793.0,436.6 1793.1,434.6 1793.1,432.6 1793.2,430.6 1793.3,428.6 1793.4,426.6 1793.4,424.6 1793.5,422.6 1793.6,420.6 1793.7,418.6 1793.7,416.6 1793.8,414.6 1793.9,412.6 1794.0,410.6 1794.0,408.7 1794.1,406.7 1794.2,404.7 1794.3,402.7 1794.3,400.7 1794.4,398.7 1794.5,396.7 1794.6,394.7 1794.6,392.7 1794.7,390.7 1794.8,388.7 1794.9,386.7 1794.9,384.7 1795.0,382.7 1795.1,380.7 1795.2,378.7 1795.2,376.7 1795.3,374.7 1795.4,372.7 1795.5,370.7 1795.5,368.7 1795.6,366.7 1795.7,364.7 1795.8,362.7 1795.9,360.7 1795.9,358.7 1796.0,356.7 1796.1,354.7 1796.2,352.7 1796.2,350.7 1796.3,348.7 1796.4,346.7 1796.4,344.7 1796.5,342.7 1796.6,340.7 1796.6,338.7 1796.7,336.7 1796.7,334.7 1796.7,332.7 1796.8,330.7 1796.8,328.7 1796.8,326.7 1796.8,324.7 1796.9,322.7 1796.9,320.7 1796.9,318.7 1796.9,316.7 1797.0,314.7 1797.0,312.7 1797.0,310.7 1797.0,308.7 1797.1,306.7 1797.1,304.7 1797.1,302.7 1797.2,300.7 1797.2,298.7 1797.2,296.7 1797.3,294.7 1797.3,292.7 1797.3,290.7 1797.4,288.7 1797.4,286.7 1797.4,284.7 1797.5,282.7 1797.5,280.7 1797.6,278.7 1797.6,276.7 1797.6,274.7 1797.7,272.7 1797.7,270.7 1797.7,268.7 1797.8,266.7 1797.8,264.7 1797.8,262.7 1797.9,260.7 1797.9,258.7 1797.9,256.7 1798.0,254.7 1798.0,252.7 1798.0,250.7 1798.1,248.7 1798.1,246.7 1798.1,244.7 1798.1,242.7 1798.2,240.7 1798.2,238.7 1798.2,236.7 1798.3,234.7 1798.3,232.7 1798.3,230.7 1798.3,228.7 1798.4,226.7 1798.4,224.7 1798.4,222.7 1798.4,220.7 1798.5,218.8 1798.5,217.1 1798.5,216.0 " stroke="#ff0000" stroke-linejoin="round"/>
<path d="M1329.3,734.5 1327.3,734.5 1325.3,734.5 1323.3,734.5 1321.3,734.5 1319.3,734.5 1317.3,734.5 1315.3,734.5 1313.3,734.5 1311.3,734.5 1309.3,734.5 1307.3,734.5 1305.3,734.5 1303.3,734.5 1301.3,734.5 1299.3,734.5 1297.3,734.5 1295.3,734.5 1293.3,734.5 1291.3,734.5 1289.3,734.5 1287.3,734.5 1285.3,734.5 1283.3,734.5 1281.3,734.5 1279.3,734.5 1277.3,734.5 1275.3,734.5 1273.3,734.5 1271.3,734.5 1269.3,734.5 1267.3,734.5 1265.3,734.6 1263.3,734.6 1261.3,734.6 1259.3,734.6 1257.3,734.6 1255.3,734.6 1253.3,734.6 1251.3,734.6 1249.3,734.5 1247.3,734.5 1245.3,734.5 1243.3,734.5 1241.3,734.5 1239.3,734.5 1237.3,734.5 1235.3,734.5 1233.3,734.5 1231.3,734.5 1229.3,734.5 1227.3,734.4 1225.3,734.4 1223.3,734.4 1221.3,734.4 1219.3,734.3 1217.3,734.3 1215.3,734.3 1213.3,734.3 1211.3,734.2 1209.3,734.2 1207.3,734.1 1205.3,734.1 1203.3,734.1 1201.3,734.0 1199.3,734.0 1197.3,733.9 1195.3,733.9 1193.3,733.8 1191.3,733.8 1189.3,733.7 1187.3,733.6 1185.3,733.6 1183.3,733.5 1181.3,733.5 1179.3,733.4 1177.3,733.4 1175.3,733.3 1173.3,733.3 1171.3,733.2 1169.3,733.2 1167.3,733.1 1165.3,733.0 1163.3,733.0 1161.3,732.9 1159.3,732.9 1157.3,732.8 1155.3,732.8 1153.3,732.8 1151.3,732.7 1149.3,732.7 1147.3,732.6 1145.3,732.6 1143.3,732.6 1141.3,732.5 1139.3,732.5 1137.3,732.4 1135.3,732.4 1133.3,732.4 1131.3,732.3 1129.3,732.3 1127.3,732.3 1125.3,732.2 1123.3,732.2 1121.3,732.2 1119.3,732.1 1117.3,732.1 1115.3,732.1 1113.3,732.1 1111.3,732.0 1109.3,732.0 1107.3,732.0 1105.3,731.9 1103.3,731.9 1101.3,731.9 1099.3,731.8 1097.3,731.8 1095.3,731.8 1093.3,731.7 1091.3,731.7 1089.3,731.7 1087.3,731.6 1085.3,731.6 1083.3,731.6 1081.3,731.5 1079.3,731.5 1077.3,731.5 1075.3,731.4 1073.3,731.4 1071.3,731.3 1069.3,731.3 1067.3,731.3 1065.3,731.2 1063.3,731.2 1061.3,731.2 1059.3,731.1 1057.3,731.1 1055.3,731.0 1053.3,731.0 1051.3,730.9 1049.3,730.9 1047.3,730.8 1045.3,730.8 1043.3,730.7 1041.3,730.6 1039.3,730.6 1037.3,730.5 1035.3,730.4 1033.3,730.3 1031.4,730.2 1029.4,730.1 1027.4,730.0 1025.4,729.9 1023.4,729.8 1021.4,729.7 1019.4,729.6 1017.4,729.5 1015.4,729.4 1013.4,729.3 1011.4,729.2 1009.4,729.1 1007.4,728.9 1005.4,728.8 1003.4,728.7 1001.4,728.6 999.4,728.4 997.4,728.3 995.4,728.2 993.4,728.0 991.4,727.9 989.4,727.7 987.4,727.6 985.4,727.5 983.4,727.3 981.4,727.1 979.5,727.0 977.5,726.8 975.5,726.7 973.5,726.5 971.5,726.3 969.5,726.1 967.5,726.0 965.5,725.8 963.5,725.6 961.5,725.4 959.5,725.2 957.5,725.0 955.6,724.8 953.6,724.6 951.6,724.4 949.6,724.2 947.6,724.0 945.6,723.8 943.6,723.7 941.6,723.5 939.6,723.3 937.6,723.1 935.6,722.9 933.7,722.7 931.7,722.5 929.7,722.3 927.7,722.1 925.7,721.9 923.7,721.7 921.7,721.5 919.7,721.3 917.7,721.1 915.8,720.9 913.8,720.6 911.8,720.4 909.8,720.2 907.8,720.0 905.8,719.8 903.8,719.6 901.8,719.4 899.8,719.2 897.8,719.0 895.9,718.8 893.9,718.5 891.9,718.2 889.9,717.8 888.0,717.5 886.0,717.1 884.1,716.7 882.1,716.3 880.1,715.9 878.2,715.4 876.2,715.0 874.3,714.5 872.4,714.0 870.5,713.4 868.5,712.8 866.6,712.2 864.8,711.6 862.9,710.9 861.0,710.2 859.1,709.6 857.2,708.9 855.3,708.3 853.4,707.7 851.5,707.0 849.7,706.3 847.8,705.6 845.9,704.9 844.1,704.1 842.3,703.2 840.5,702.3 838.8,701.4 837.0,700.4 835.2,699.5 833.5,698.5 831.8,697.5 830.0,696.5 828.3,695.5 826.5,694.6 824.8,693.6 823.1,692.6 821.3,691.6 819.6,690.6 817.8,689.7 816.1,688.8 814.3,688.0 812.4,687.4 810.5,686.9 808.6,686.4 806.7,686.1 804.7,685.8 802.7,685.6 800.8,685.6 798.8,685.9 796.9,686.4 795.1,687.2 793.3,688.1 791.6,689.0 789.9,690.0 788.2,691.1 786.6,692.3 785.1,693.5 783.6,694.9 782.2,696.3 780.9,697.7 779.6,699.3 778.4,700.8 777.2,702.4 776.1,704.1 774.9,705.7 773.8,707.4 772.6,709.0 771.5,710.6 770.3,712.3 769.1,713.9 767.9,715.5 766.7,717.1 765.5,718.6 764.2,720.2 763.0,721.7 761.7,723.2 760.3,724.7 758.9,726.2 757.5,727.6 756.1,729.0 754.6,730.3 753.1,731.6 751.5,732.8 750.0,734.1 748.3,735.2 746.7,736.4 745.0,737.5 743.3,738.5 741.6,739.5 739.9,740.5 738.1,741.4 736.3,742.2 734.4,742.9 732.6,743.6 730.7,744.2 728.7,744.7 726.8,745.2 724.9,745.7 722.9,746.2 721.0,746.6 719.0,747.1 717.1,747.5 715.1,747.9 713.2,748.3 711.2,748.7 709.2,749.1 707.3,749.5 705.3,749.8 703.3,750.1 701.3,750.4 699.4,750.7 697.4,751.0 695.4,751.2 693.4,751.5 691.4,751.7 689.4,751.9 687.4,752.1 685.5,752.2 683.5,752.4 681.5,752.5 679.5,752.6 677.5,752.7 675.5,752.8 673.5,752.9 671.5,753.0 669.5,753.1 667.5,753.1 665.5,753.2 663.5,753.3 661.5,753.4 659.5,753.4 657.5,753.5 655.5,753.6 653.5,753.7 651.5,753.8 649.5,753.9 647.5,753.9 645.5,754.0 643.5,754.1 641.5,754.2 639.5,754.3 637.5,754.3 635.5,754.4 633.5,754.4 631.5,754.5 629.5,754.5 627.5,754.5 625.5,754.5 623.5,754.4 621.5,754.4 619.5,754.4 617.5,754.3 615.5,754.3 613.5,754.3 611.5,754.3 609.5,754.3 607.5,754.4 605.5,754.4 603.5,754.5 601.5,754.5 599.5,754.6 597.5,754.7 595.5,754.8 593.5,754.9 591.5,755.0 589.5,755.1 587.5,755.3 585.5,755.5 583.6,755.6 581.6,755.9 579.6,756.1 577.6,756.4 575.6,756.7 573.7,757.0 571.7,757.3 569.7,757.7 567.7,757.9 565.8,758.2 563.8,758.5 561.8,758.8 559.9,759.1 557.9,759.5 556.0,760.0 554.1,760.6 552.2,761.2 550.3,761.9 548.5,762.6 546.7,763.5 544.9,764.3 543.1,765.3 541.4,766.3 539.8,767.4 538.2,768.6 536.6,769.8 535.1,771.1 533.7,772.5 532.3,773.9 530.9,775.4 529.5,776.8 528.2,778.3 526.9,779.9 525.7,781.4 524.5,783.0 523.3,784.7 522.2,786.3 521.1,788.0 520.0,789.7 519.0,791.4 517.9,793.0 516.8,794.7 515.8,796.4 514.7,798.1 513.7,799.8 512.6,801.5 511.6,803.3 510.7,805.0 509.7,806.8 508.8,808.5 507.9,810.3 507.0,812.1 506.1,813.9 505.2,815.7 504.3,817.4 503.3,819.2 502.3,820.9 501.3,822.6 500.1,824.2 499.0,825.8 497.8,827.4 496.7,829.1 495.6,830.7 494.6,832.4 493.6,834.1 492.6,835.9 491.6,837.6 490.7,839.4 489.7,841.1 488.7,842.9 487.7,844.6 486.6,846.3 485.6,848.0 484.5,849.7 483.5,851.4 482.4,853.1 481.4,854.8 480.3,856.5 479.3,858.2 478.3,860.0 477.3,861.7 476.4,863.4 475.4,865.2 474.4,866.9 473.5,868.7 472.5,870.5 471.6,872.2 470.6,874.0 469.6,875.7 468.7,877.5 467.7,879.2 466.7,881.0 465.8,882.7 464.8,884.5 463.8,886.2 462.8,887.9 461.9,889.7 460.9,891.4 459.9,893.2 458.9,894.9 457.8,896.6 456.8,898.3 455.7,900.0 454.6,901.6 453.4,903.3 452.2,904.9 451.1,906.5 449.9,908.1 448.7,909.7 447.5,911.3 446.3,913.0 445.2,914.6 444.1,916.2 443.0,917.9 441.9,919.6 440.8,921.3 439.8,923.0 438.9,924.8 437.9,926.5 436.9,928.3 436.0,930.0 435.0,931.8 434.1,933.5 433.1,935.3 432.1,937.0 431.1,938.7 430.1,940.5 429.0,942.2 428.0,943.9 426.9,945.6 425.9,947.3 424.8,949.0 423.7,950.7 422.7,952.3 421.6,954.0 420.6,955.7 419.5,957.4 418.5,959.1 417.4,960.8 416.4,962.5 415.3,964.3 414.3,966.0 413.3,967.7 412.2,969.4 411.2,971.1 410.2,972.9 409.3,974.6 408.3,976.4 407.3,978.1 406.4,979.9 405.5,981.6 404.5,983.4 403.7,985.2 402.8,987.0 402.0,988.8 401.2,990.7 400.4,992.5 399.7,994.4 399.1,996.3 398.4,998.2 397.8,1000.1 397.2,1002.0 396.7,1003.9 396.2,1005.8 395.7,1007.8 395.1,1009.7 394.6,1011.6 394.0,1013.4 393.5,1015.0 393.0,1016.5 L393.0,1016.5 395.0,1016.3 397.0,1016.1 398.9,1015.8 400.8,1015.2 402.7,1014.5 404.5,1013.7 406.2,1012.8 407.9,1011.8 409.6,1010.7 411.3,1009.6 412.9,1008.5 414.5,1007.3 416.1,1006.1 417.7,1004.9 419.3,1003.7 420.8,1002.4 422.3,1001.1 423.8,999.7 425.2,998.3 426.5,996.9 427.8,995.3 429.0,993.8 430.1,992.1 431.1,990.4 432.1,988.7 432.9,986.9 433.7,985.0 434.5,983.2 435.3,981.4 436.0,979.5 436.7,977.6 437.5,975.8 438.3,973.9 439.0,972.1 439.8,970.3 440.6,968.4 441.4,966.6 442.2,964.8 443.0,962.9 443.8,961.1 444.5,959.2 445.3,957.4 446.0,955.5 446.7,953.6 447.3,951.7 448.0,949.8 448.6,947.9 449.2,946.0 449.8,944.1 450.4,942.2 451.0,940.3 451.7,938.4 452.3,936.5 452.9,934.6 453.5,932.7 454.1,930.8 454.7,928.9 455.4,927.0 456.1,925.1 456.8,923.3 457.5,921.4 458.3,919.6 459.1,917.8 460.0,916.0 460.9,914.2 461.9,912.4 462.9,910.7 463.9,909.0 464.9,907.3 465.9,905.5 466.9,903.8 468.0,902.1 469.0,900.4 470.1,898.7 471.1,897.0 472.2,895.3 473.3,893.6 474.4,892.0 475.5,890.3 476.6,888.7 477.8,887.0 479.0,885.4 480.2,883.9 481.5,882.3 482.8,880.8 484.1,879.3 485.4,877.8 486.8,876.3 488.1,874.9 489.5,873.4 490.9,872.0 492.3,870.6 493.7,869.2 495.2,867.8 496.6,866.4 498.0,865.0 499.5,863.6 500.9,862.2 502.4,860.9 503.8,859.5 505.3,858.1 506.7,856.7 508.1,855.3 509.5,853.8 510.9,852.4 512.2,850.9 513.5,849.4 514.9,847.9 516.2,846.4 517.5,844.9 518.8,843.4 520.1,841.9 521.4,840.4 522.8,838.9 524.2,837.5 525.6,836.0 527.0,834.6 528.4,833.2 529.9,831.9 531.3,830.5 532.8,829.1 534.3,827.8 535.8,826.4 537.3,825.1 538.8,823.8 540.3,822.5 541.9,821.3 543.5,820.1 545.1,819.0 546.8,817.9 548.5,816.8 550.2,815.8 551.9,814.8 553.7,813.9 555.5,813.0 557.3,812.2 559.1,811.3 561.0,810.6 562.8,809.8 564.7,809.1 566.6,808.5 568.5,807.8 570.4,807.3 572.3,806.7 574.2,806.2 576.2,805.8 578.1,805.4 580.1,805.0 582.1,804.7 584.0,804.5 586.0,804.3 588.0,804.2 590.0,804.1 592.0,804.0 594.0,804.0 596.0,804.0 598.0,804.0 600.0,804.0 602.0,804.0 604.0,804.0 606.0,804.1 608.0,804.2 610.0,804.3 612.0,804.5 614.0,804.7 615.9,805.0 617.9,805.3 619.9,805.6 621.9,805.8 623.8,806.1 625.8,806.3 627.8,806.6 629.8,806.8 631.8,807.0 633.8,807.3 635.7,807.5 637.7,807.8 639.7,808.0 641.7,808.3 643.7,808.6 645.7,808.8 647.6,809.1 649.6,809.4 651.6,809.7 653.6,810.0 655.5,810.4 657.5,810.7 659.5,811.1 661.4,811.6 663.4,812.0 665.3,812.5 667.2,813.0 669.2,813.4 671.1,813.9 673.1,814.3 675.0,814.7 677.0,815.1 679.0,815.5 680.9,815.9 682.9,816.2 684.9,816.6 686.8,816.9 688.8,817.2 690.8,817.5 692.8,817.8 694.7,818.1 696.7,818.4 698.7,818.6 700.7,818.7 702.7,818.7 704.6,818.4 706.5,817.9 708.4,817.2 710.3,816.5 712.1,815.7 713.9,814.8 715.6,813.8 717.4,812.8 719.0,811.8 720.6,810.6 722.2,809.4 723.8,808.1 725.3,806.9 726.8,805.6 728.4,804.3 729.9,803.0 731.5,801.8 733.1,800.6 734.7,799.4 736.3,798.3 738.0,797.2 739.7,796.1 741.4,795.0 743.1,794.0 744.8,792.9 746.5,791.9 748.2,790.9 749.9,789.9 751.7,788.9 753.4,787.9 755.1,786.9 756.9,785.8 758.6,784.8 760.3,783.9 762.1,782.9 763.8,781.9 765.6,780.9 767.3,780.0 769.1,779.1 770.9,778.2 772.7,777.3 774.5,776.4 776.3,775.5 778.1,774.7 779.9,773.9 781.7,773.1 783.6,772.3 785.4,771.5 787.2,770.7 789.1,769.9 790.9,769.1 792.8,768.3 794.6,767.6 796.5,766.9 798.4,766.2 800.3,765.6 802.2,765.0 804.1,764.5 806.0,764.0 808.0,763.6 809.9,763.1 811.9,762.8 813.9,762.4 815.8,762.1 817.8,761.8 819.8,761.6 821.8,761.3 823.8,761.1 825.8,761.0 827.8,760.8 829.7,760.6 831.7,760.4 833.7,760.2 835.7,760.0 837.7,759.8 839.7,759.6 841.7,759.4 843.7,759.2 845.7,759.1 847.7,758.9 849.7,758.8 851.7,758.7 853.7,758.6 855.7,758.5 857.7,758.5 859.7,758.4 861.7,758.3 863.7,758.3 865.6,758.2 867.6,758.2 869.6,758.1 871.6,758.1 873.6,758.0 875.6,758.0 877.6,757.9 879.6,757.9 881.6,757.8 883.6,757.8 885.6,757.7 887.6,757.7 889.6,757.6 891.6,757.5 893.6,757.4 895.6,757.3 897.6,757.2 899.6,757.1 901.6,757.0 903.6,756.9 905.6,756.8 907.6,756.7 909.6,756.6 911.6,756.6 913.6,756.5 915.6,756.5 917.6,756.4 919.6,756.4 921.6,756.4 923.6,756.4 925.6,756.4 927.6,756.3 929.6,756.3 931.6,756.3 933.6,756.3 935.6,756.3 937.6,756.3 939.6,756.3 941.6,756.3 943.6,756.3 945.6,756.3 947.6,756.3 949.6,756.3 951.6,756.4 953.6,756.4 955.6,756.4 957.6,756.4 959.6,756.4 961.6,756.4 963.6,756.5 965.6,756.5 967.6,756.5 969.6,756.5 971.6,756.5 973.6,756.5 975.6,756.5 977.6,756.6 979.6,756.6 981.6,756.6 983.6,756.6 985.6,756.6 987.6,756.6 989.6,756.6 991.6,756.6 993.6,756.6 995.6,756.6 997.6,756.6 999.6,756.6 1001.6,756.6 1003.6,756.6 1005.6,756.6 1007.6,756.6 1009.6,756.5 1011.6,756.5 1013.6,756.5 1015.6,756.5 1017.6,756.5 1019.6,756.5 1021.6,756.4 1023.6,756.4 1025.6,756.4 1027.6,756.4 1029.6,756.4 1031.6,756.3 1033.6,756.3 1035.6,756.3 1037.6,756.3 1039.6,756.2 1041.6,756.2 1043.6,756.2 1045.6,756.2 1047.6,756.1 1049.6,756.1 1051.6,756.1 1053.6,756.1 1055.6,756.0 1057.6,756.0 1059.6,756.0 1061.6,755.9 1063.6,755.9 1065.6,755.9 1067.6,755.9 1069.6,755.8 1071.6,755.8 1073.6,755.8 1075.6,755.8 1077.6,755.7 1079.6,755.7 1081.6,755.7 1083.6,755.6 1085.6,755.6 1087.6,755.6 1089.6,755.6 1091.6,755.5 1093.6,755.5 1095.6,755.5 1097.6,755.5 1099.6,755.4 1101.6,755.4 1103.6,755.4 1105.6,755.3 1107.6,755.3 1109.6,755.3 1111.6,755.2 1113.6,755.2 1115.6,755.2 1117.6,755.2 1119.6,755.1 1121.6,755.1 1123.6,755.1 1125.6,755.0 1127.6,755.0 1129.6,755.0 1131.6,754.9 1133.6,754.9 1135.6,754.9 1137.6,754.9 1139.6,754.8 1141.6,754.8 1143.6,754.8 1145.6,754.7 1147.6,754.7 1149.6,754.7 1151.6,754.6 1153.6,754.6 1155.6,754.6 1157.6,754.5 1159.6,754.5 1161.6,754.5 1163.6,754.5 1165.6,754.4 1167.6,754.4 1169.6,754.4 1171.6,754.3 1173.6,754.3 1175.6,754.3 1177.6,754.2 1179.6,754.2 1181.6,754.2 1183.6,754.1 1185.6,754.1 1187.6,754.1 1189.6,754.1 1191.6,754.0 1193.6,754.0 1195.6,754.0 1197.6,753.9 1199.6,753.9 1201.6,753.9 1203.6,753.8 1205.6,753.8 1207.6,753.8 1209.6,753.7 1211.6,753.7 1213.6,753.7 1215.6,753.7 1217.6,753.6 1219.6,753.6 1221.6,753.6 1223.6,753.5 1225.6,753.5 1227.6,753.5 1229.6,753.4 1231.6,753.4 1233.6,753.4 1235.6,753.3 1237.6,753.3 1239.6,753.3 1241.6,753.3 1243.6,753.2 1245.6,753.2 1247.6,753.2 1249.6,753.1 1251.6,753.1 1253.6,753.1 1255.6,753.0 1257.6,753.0 1259.6,753.0 1261.6,752.9 1263.6,752.9 1265.6,752.8 1267.6,752.8 1269.6,752.8 1271.6,752.7 1273.6,752.7 1275.6,752.6 1277.6,752.6 1279.6,752.5 1281.6,752.5 1283.6,752.4 1285.6,752.4 1287.6,752.3 1289.6,752.2 1291.6,752.2 1293.6,752.1 1295.6,752.1 1297.6,752.0 1299.6,751.9 1301.6,751.9 1303.6,751.8 1305.6,751.7 1307.6,751.6 1309.6,751.5 1311.6,751.4 1313.6,751.4 1315.6,751.3 1317.6,751.3 1319.5,751.3 1321.5,751.3 1323.5,751.4 1325.5,751.5 1327.5,751.8 1329.5,752.2 1331.4,752.6 1333.4,752.8 1335.4,753.0 1337.4,753.1 1339.4,753.2 1341.4,753.2 1343.4,753.3 1345.4,753.3 1347.4,753.3 1349.4,753.3 1351.4,753.3 1353.4,753.3 1355.4,753.3 1357.4,753.3 1359.4,753.3 1361.4,753.3 1363.4,753.2 1365.4,753.2 1367.4,753.2 1369.4,753.2 1371.4,753.1 1373.4,753.1 1375.4,753.1 1377.4,753.1 1379.4,753.0 1381.4,753.0 1383.4,753.0 1385.4,752.9 1387.4,752.9 1389.4,752.9 1391.4,752.9 1393.4,752.8 1395.4,752.8 1397.4,752.8 1399.4,752.8 1401.4,752.7 1403.4,752.7 1405.4,752.7 1407.4,752.7 1409.4,752.6 1411.4,752.6 1413.4,752.6 1415.4,752.5 1417.4,752.5 1419.4,752.5 1421.4,752.4 1423.4,752.4 1425.4,752.4 1427.4,752.3 1429.4,752.3 1431.4,752.2 1433.4,752.2 1435.4,752.1 1437.4,752.0 1439.4,752.0 1441.4,751.9 1443.4,751.8 1445.4,751.7 1447.4,751.7 1449.4,751.6 1451.4,751.5 1453.4,751.4 1455.4,751.3 1457.3,751.1 1459.3,751.0 1461.3,750.9 1463.3,750.7 1465.3,750.5 1467.3,750.4 1469.3,750.2 1471.3,750.0 1473.3,749.7 1475.3,749.5 1477.3,749.3 1479.2,749.0 1481.2,748.7 1483.2,748.5 1485.2,748.2 1487.2,747.9 1489.1,747.7 1491.1,747.4 1493.1,747.0 1495.1,746.7 1497.0,746.3 1499.0,745.9 1500.9,745.5 1502.9,745.0 1504.8,744.5 1506.7,743.9 1508.6,743.3 1510.5,742.6 1512.4,741.9 1514.3,741.3 1516.1,740.6 1518.0,739.9 1519.9,739.3 1521.8,738.6 1523.7,737.9 1525.5,737.2 1527.4,736.4 1529.2,735.6 1531.0,734.8 1532.9,734.0 1534.7,733.1 1536.4,732.2 1538.2,731.3 1539.9,730.3 1541.6,729.2 1543.3,728.2 1545.0,727.1 1546.6,726.0 1548.3,724.8 1549.9,723.7 1551.5,722.5 1553.1,721.3 1554.7,720.1 1556.3,718.8 1557.9,717.6 1559.4,716.3 1560.9,715.0 1562.4,713.7 1563.9,712.4 1565.4,711.0 1566.9,709.7 1568.3,708.3 1569.8,706.9 1571.2,705.5 1572.6,704.1 1574.0,702.7 1575.3,701.2 1576.7,699.7 1578.0,698.2 1579.3,696.7 1580.5,695.1 1581.6,693.5 1582.7,691.8 1583.8,690.1 1584.8,688.4 1585.8,686.7 1586.8,685.0 1587.9,683.3 1588.9,681.6 1590.0,679.9 1591.1,678.2 1592.2,676.5 1593.3,674.8 1594.3,673.2 1595.4,671.5 1596.5,669.8 1597.6,668.1 1598.7,666.4 1599.8,664.7 1600.8,663.1 1601.9,661.3 1602.9,659.6 1603.9,657.9 1605.0,656.2 1606.0,654.5 1607.1,652.8 1608.2,651.1 1609.2,649.5 1610.3,647.8 1611.4,646.1 1612.5,644.4 1613.5,642.7 1614.5,641.0 1615.5,639.3 1616.5,637.5 1617.5,635.7 1618.4,634.0 1619.3,632.2 1620.2,630.4 1621.0,628.6 1621.9,626.8 1622.7,624.9 1623.5,623.1 1624.3,621.3 1625.1,619.5 1626.0,617.6 1626.8,615.8 1627.6,614.0 1628.5,612.2 1629.4,610.4 1630.3,608.6 1631.2,606.9 1632.1,605.1 1633.0,603.3 1634.0,601.5 1634.9,599.8 1635.8,598.0 1636.8,596.2 1637.7,594.4 1638.6,592.7 1639.5,590.9 1640.3,589.1 1641.2,587.3 1642.0,585.4 1642.7,583.6 1643.5,581.7 1644.2,579.9 1644.9,578.0 1645.5,576.1 1646.2,574.2 1646.8,572.3 1647.4,570.4 1648.1,568.5 1648.7,566.6 1649.4,564.7 1650.1,562.9 1650.8,561.0 1651.6,559.2 1652.4,557.3 1653.2,555.5 1654.0,553.7 1654.8,551.8 1655.6,550.0 1656.5,548.2 1657.4,546.4 1658.2,544.6 1659.1,542.8 1660.0,541.0 1660.9,539.3 1661.8,537.5 1662.8,535.7 1663.7,533.9 1664.6,532.2 1665.6,530.4 1666.5,528.6 1667.5,526.9 1668.5,525.1 1669.4,523.4 1670.4,521.6 1671.4,519.9 1672.3,518.1 1673.3,516.4 1674.3,514.7 1675.3,512.9 1676.2,511.2 1677.2,509.4 1678.2,507.6 1679.1,505.9 1680.1,504.1 1681.0,502.4 1682.0,500.6 1683.0,498.9 1683.9,497.1 1684.9,495.4 1685.8,493.6 1686.8,491.9 1687.8,490.1 1688.8,488.4 1689.8,486.6 1690.7,484.9 1691.7,483.2 1692.8,481.5 1693.9,479.8 1695.0,478.1 1696.1,476.5 1697.3,474.8 1698.5,473.2 1699.7,471.6 1700.9,470.1 1702.2,468.5 1703.5,467.0 1704.8,465.5 1706.2,464.1 1707.6,462.7 1709.1,461.4 1710.6,460.0 1712.0,458.7 1713.5,457.4 1715.0,456.0 1716.5,454.7 1717.9,453.3 1719.3,451.9 1720.7,450.4 1722.1,449.0 1723.5,447.5 1724.8,446.0 1726.1,444.5 1727.4,443.0 1728.7,441.4 1729.9,439.9 1731.1,438.3 1732.3,436.7 1733.5,435.1 1734.6,433.4 1735.7,431.8 1736.9,430.1 1738.0,428.5 1739.1,426.8 1740.2,425.1 1741.3,423.5 1742.3,421.8 1743.4,420.0 1744.4,418.3 1745.3,416.6 1746.2,414.8 1747.1,413.0 1748.0,411.2 1748.8,409.4 1749.6,407.5 1750.3,405.7 1751.1,403.8 1751.8,402.0 1752.4,400.1 1753.1,398.2 1753.7,396.3 1754.3,394.4 1754.9,392.5 1755.5,390.6 1756.1,388.7 1756.8,386.8 1757.4,384.9 1758.1,383.0 1758.7,381.1 1759.4,379.2 1760.1,377.3 1760.7,375.4 1761.4,373.5 1762.0,371.6 1762.7,369.8 1763.3,367.8 1763.9,365.9 1764.5,364.0 1765.0,362.1 1765.6,360.2 1766.2,358.3 1766.8,356.4 1767.3,354.5 1767.9,352.5 1768.4,350.6 1768.9,348.7 1769.4,346.7 1769.9,344.8 1770.4,342.9 1771.0,340.9 1771.5,339.0 1772.0,337.1 1772.6,335.2 1773.2,333.2 1773.7,331.3 1774.2,329.4 1774.8,327.5 1775.3,325.5 1775.8,323.6 1776.3,321.7 1776.8,319.7 1777.3,317.8 1777.7,315.8 1778.2,313.9 1778.7,312.0 1779.1,310.0 1779.5,308.1 1780.0,306.1 1780.4,304.1 1780.8,302.2 1781.3,300.2 1781.7,298.3 1782.1,296.3 1782.5,294.4 1782.9,292.4 1783.3,290.4 1783.7,288.5 1784.1,286.5 1784.5,284.6 1784.9,282.6 1785.3,280.6 1785.7,278.7 1786.0,276.7 1786.4,274.8 1786.8,272.8 1787.2,270.8 1787.5,268.9 1787.9,266.9 1788.3,264.9 1788.6,263.0 1789.0,261.0 1789.4,259.0 1789.7,257.1 1790.1,255.1 1790.5,253.1 1790.9,251.2 1791.2,249.2 1791.6,247.2 1792.0,245.3 1792.4,243.3 1792.8,241.4 1793.2,239.4 1793.6,237.5 1794.1,235.5 1794.5,233.5 1795.0,231.6 1795.4,229.7 1795.9,227.7 1796.4,225.8 1796.9,223.9 1797.3,221.9 1797.8,220.1 1798.1,218.4 1798.3,217.5 " stroke="#0000ff" stroke-linejoin="round"/>
<path d="M1798.3,217.5 1798.6,219.5 1798.7,221.5 1798.7,223.4 1798.7,225.4 1798.7,227.4 1798.7,229.4 1798.6,231.4 1798.6,233.4 1798.6,235.4 1798.5,237.4 1798.4,239.4 1798.4,241.4 1798.3,243.4 1798.2,245.4 1798.1,247.4 1798.0,249.4 1798.0,251.4 1797.9,253.4 1797.8,255.4 1797.7,257.4 1797.6,259.4 1797.5,261.4 1797.4,263.4 1797.3,265.4 1797.2,267.4 1797.1,269.4 1797.0,271.4 1796.9,273.4 1796.7,275.4 1796.6,277.4 1796.5,279.4 1796.3,281.4 1796.2,283.4 1796.0,285.4 1795.8,287.4 1795.6,289.4 1795.5,291.3 1795.3,293.3 1795.1,295.3 1794.9,297.3 1794.8,299.3 1794.6,301.3 1794.4,303.3 1794.3,305.3 1794.2,307.3 1794.0,309.3 1793.9,311.3 1793.8,313.3 1793.6,315.3 1793.5,317.3 1793.4,319.3 1793.3,321.3 1793.2,323.3 1793.0,325.3 1793.0,327.3 1792.9,329.3 1792.8,331.3 1792.7,333.2 1792.7,335.2 1792.6,337.2 1792.6,339.2 1792.6,341.2 1792.6,343.2 1792.5,345.2 1792.5,347.2 1792.5,349.2 1792.4,351.2 1792.4,353.2 1792.3,355.2 1792.3,357.2 1792.2,359.2 1792.1,361.2 1792.0,363.2 1791.9,365.2 1791.8,367.2 1791.7,369.2 1791.6,371.2 1791.5,373.2 1791.3,375.2 1791.2,377.2 1791.0,379.2 1790.9,381.2 1790.7,383.2 1790.6,385.2 1790.4,387.2 1790.3,389.2 1790.1,391.2 1790.0,393.2 1789.8,395.2 1789.7,397.2 1789.5,399.1 1789.4,401.1 1789.3,403.1 1789.1,405.1 1789.0,407.1 1788.8,409.1 1788.7,411.1 1788.5,413.1 1788.4,415.1 1788.2,417.1 1788.1,419.1 1787.9,421.1 1787.8,423.1 1787.6,425.1 1787.5,427.1 1787.3,429.1 1787.2,431.1 1787.0,433.1 1786.9,435.1 1786.8,437.0 1786.6,439.0 1786.5,441.0 1786.3,443.0 1786.1,445.0 1786.0,447.0 1785.8,449.0 1785.6,451.0 1785.5,453.0 1785.3,455.0 1785.1,457.0 1784.9,459.0 1784.7,461.0 1784.5,462.9 1784.3,464.9 1784.0,466.9 1783.8,468.9 1783.6,470.9 1783.4,472.9 1783.2,474.9 1783.0,476.9 1782.8,478.9 1782.6,480.8 1782.4,482.8 1782.2,484.8 1782.0,486.8 1781.8,488.8 1781.6,490.8 1781.4,492.8 1781.2,494.8 1781.0,496.8 1780.8,498.8 1780.6,500.7 1780.4,502.7 1780.2,504.7 1780.0,506.7 1779.7,508.7 1779.5,510.7 1779.3,512.7 1779.1,514.7 1778.9,516.7 1778.7,518.6 1778.5,520.6 1778.3,522.6 1778.0,524.6 1777.8,526.6 1777.6,528.6 1777.4,530.6 1777.1,532.6 1776.9,534.5 1776.7,536.5 1776.4,538.5 1776.2,540.5 1776.0,542.5 1775.7,544.5 1775.5,546.5 1775.2,548.4 1775.0,550.4 1774.8,552.4 1774.5,554.4 1774.3,556.4 1774.0,558.4 1773.8,560.4 1773.6,562.3 1773.3,564.3 1773.1,566.3 1772.9,568.3 1772.6,570.3 1772.4,572.3 1772.2,574.3 1771.9,576.3 1771.7,578.2 1771.5,580.2 1771.3,582.2 1771.1,584.2 1770.9,586.2 1770.7,588.2 1770.5,590.2 1770.3,592.2 1770.2,594.2 1770.0,596.2 1769.8,598.1 1769.7,600.1 1769.5,602.1 1769.3,604.1 1769.1,606.1 1768.9,608.1 1768.7,610.1 1768.5,612.1 1768.3,614.1 1768.1,616.1 1767.9,618.0 1767.6,620.0 1767.4,622.0 1767.1,624.0 1766.9,626.0 1766.6,628.0 1766.4,630.0 1766.1,631.9 1765.9,633.9 1765.6,635.9 1765.3,637.9 1765.1,639.9 1764.8,641.9 1764.5,643.8 1764.3,645.8 1764.0,647.8 1763.7,649.8 1763.5,651.8 1763.2,653.7 1762.9,655.7 1762.6,657.7 1762.4,659.7 1762.1,661.7 1761.8,663.7 1761.6,665.6 1761.3,667.6 1761.0,669.6 1760.7,671.6 1760.5,673.6 1760.2,675.5 1760.0,677.5 1759.7,679.5 1759.4,681.5 1759.2,683.5 1758.9,685.5 1758.6,687.4 1758.4,689.4 1758.1,691.4 1757.8,693.4 1757.5,695.4 1757.2,697.3 1756.9,699.3 1756.6,701.3 1756.2,703.3 1755.9,705.2 1755.5,707.2 1755.2,709.2 1754.8,711.1 1754.5,713.1 1754.1,715.1 1753.7,717.0 1753.4,719.0 1753.0,721.0 1752.6,722.9 1752.2,724.9 1751.8,726.8 1751.4,728.8 1751.0,730.8 1750.6,732.7 1750.2,734.7 1749.7,736.6 1749.3,738.6 1748.9,740.5 1748.4,742.5 1748.0,744.4 1747.6,746.4 1747.1,748.3 1746.7,750.3 1746.2,752.2 1745.8,754.2 1745.3,756.1 1744.8,758.1 1744.3,760.0 1743.9,762.0 1743.4,763.9 1742.9,765.8 1742.4,767.8 1741.9,769.7 1741.4,771.6 1740.8,773.6 1740.3,775.5 1739.8,777.4 1739.3,779.4 1738.8,781.3 1738.3,783.2 1737.8,785.2 1737.3,787.1 1736.8,789.0 1736.3,791.0 1735.7,792.9 1735.2,794.8 1734.5,796.7 1733.9,798.6 1733.2,800.5 1732.5,802.3 1731.7,804.2 1730.9,806.0 1730.0,807.8 1729.1,809.6 1728.2,811.3 1727.2,813.1 1726.2,814.8 1725.1,816.4 1723.9,818.1 1722.7,819.6 1721.4,821.2 1720.1,822.6 1718.7,824.1 1717.3,825.5 1715.8,826.9 1714.4,828.2 1712.9,829.5 1711.3,830.8 1709.7,832.0 1708.1,833.1 1706.5,834.2 1704.8,835.1 1702.9,835.9 1701.0,836.5 1699.1,837.0 1697.2,837.6 1695.4,838.2 1693.5,839.0 1691.8,839.8 1690.0,840.8 1688.3,841.7 1686.6,842.8 1684.9,843.7 1683.2,844.6 1681.4,845.5 1679.6,846.2 1677.8,846.9 1676.0,847.7 1674.2,848.5 1672.5,849.5 1670.9,850.6 1669.4,851.8 1667.9,853.1 1666.6,854.6 1665.2,856.0 1664.0,857.6 1662.7,859.1 1661.5,860.7 1660.3,862.3 1659.1,863.9 1657.9,865.6 1656.8,867.2 1655.6,868.8 1654.5,870.4 1653.3,872.1 1652.2,873.7 1651.0,875.4 1649.9,877.0 1648.8,878.7 1647.6,880.3 1646.5,882.0 1645.4,883.6 1644.3,885.3 1643.2,886.9 1642.0,888.6 1640.9,890.3 1639.8,891.9 1638.7,893.6 1637.5,895.2 1636.4,896.9 1635.3,898.5 1634.2,900.2 1633.1,901.8 1632.0,903.5 1630.9,905.2 1629.8,906.9 1628.8,908.6 1627.8,910.3 1626.8,912.1 1625.8,913.8 1624.9,915.6 1623.9,917.3 1623.0,919.1 1622.0,920.8 1620.9,922.5 1619.8,924.2 1618.7,925.8 1617.5,927.4 1616.2,928.9 1614.9,930.4 1613.6,931.9 1612.2,933.4 1610.8,934.8 1609.4,936.2 1608.0,937.6 1606.5,939.0 1605.1,940.4 1603.6,941.7 1602.1,943.0 1600.5,944.2 1599.0,945.4 1597.3,946.5 1595.6,947.5 1593.8,948.3 1592.0,948.9 1590.0,949.2 1588.0,949.3 1586.1,949.2 1584.1,948.8 1582.2,948.3 1580.4,947.6 1578.5,946.8 1576.8,945.9 1575.0,944.9 1573.4,943.9 1571.8,942.7 1570.2,941.5 1568.7,940.2 1567.2,938.9 1565.8,937.5 1564.4,936.1 1563.0,934.6 1561.6,933.2 1560.2,931.7 1558.9,930.3 1557.5,928.8 1556.2,927.3 1554.9,925.8 1553.6,924.2 1552.3,922.7 1551.1,921.2 1549.8,919.6 1548.6,918.0 1547.3,916.5 1546.1,914.9 1544.9,913.3 1543.7,911.6 1542.6,910.0 1541.5,908.4 1540.3,906.7 1539.3,905.0 1538.2,903.3 1537.1,901.6 1536.1,899.9 1535.1,898.2 1534.1,896.5 1533.0,894.8 1532.0,893.1 1530.9,891.4 1529.9,889.7 1528.8,888.0 1527.7,886.3 1526.6,884.7 1525.5,883.0 1524.4,881.3 1523.2,879.7 1522.1,878.0 1521.0,876.4 1519.8,874.7 1518.7,873.1 1517.5,871.5 1516.4,869.8 1515.2,868.2 1514.1,866.6 1512.9,865.0 1511.7,863.3 1510.5,861.7 1509.3,860.1 1508.1,858.5 1506.9,856.9 1505.7,855.4 1504.5,853.8 1503.2,852.2 1502.0,850.6 1500.7,849.1 1499.5,847.5 1498.2,846.0 1496.9,844.5 1495.6,843.0 1494.2,841.5 1492.9,840.0 1491.5,838.6 1490.1,837.1 1488.7,835.7 1487.3,834.3 1485.9,832.9 1484.4,831.5 1482.9,830.2 1481.4,828.9 1479.9,827.5 1478.4,826.3 1476.8,825.0 1475.3,823.8 1473.7,822.6 1472.1,821.4 1470.5,820.2 1468.9,819.0 1467.2,817.8 1465.6,816.7 1464.0,815.5 1462.4,814.3 1460.7,813.2 1459.1,812.0 1457.4,810.9 1455.8,809.8 1454.1,808.8 1452.3,807.8 1450.6,806.8 1448.8,805.8 1447.1,804.9 1445.3,804.0 1443.5,803.1 1441.7,802.2 1439.9,801.4 1438.1,800.6 1436.2,799.8 1434.4,799.0 1432.5,798.2 1430.7,797.5 1428.8,796.8 1426.9,796.1 1425.0,795.5 1423.1,794.9 1421.2,794.4 1419.3,793.8 1417.3,793.3 1415.4,792.8 1413.5,792.3 1411.5,791.8 1409.6,791.3 1407.7,790.8 1405.7,790.4 1403.8,789.9 1401.8,789.4 1399.9,789.0 1397.9,788.5 1396.0,788.0 1394.0,787.6 1392.1,787.1 1390.2,786.6 1388.2,786.2 1386.3,785.7 1384.3,785.3 1382.4,784.8 1380.4,784.4 1378.5,784.0 1376.5,783.5 1374.5,783.1 1372.6,782.7 1370.6,782.3 1368.7,781.9 1366.7,781.6 1364.7,781.2 1362.8,780.9 1360.8,780.5 1358.8,780.2 1356.8,779.9 1354.9,779.6 1352.9,779.3 1350.9,779.0 1348.9,778.8 1346.9,778.5 1345.0,778.2 1343.0,778.0 1341.0,777.7 1339.0,777.4 1337.1,777.2 1335.1,776.9 1333.2,776.6 1331.3,776.3 1329.6,776.1 1329.0,776.0 L1329.0,776.0 1329.0,751.5 " stroke="#0000ff" stroke-linejoin="miter" stroke-miterlimit="4"/>
</g>
<rect x="299.7" y="46.45" width="1592.75" height="1058.9" fill="none" stroke="#000" stroke-width="10.7"/>
<g stroke="#000" stroke-width="10.8">
<line x1="392.85" y1="1105" x2="392.85" y2="1135.3"/>
<line x1="861.9" y1="1105" x2="861.9" y2="1135.3"/>
<line x1="1329.3" y1="1105" x2="1329.3" y2="1135.3"/>
<line x1="1798.8" y1="1105" x2="1798.8" y2="1135.3"/>
</g>
<rect x="379.4" y="141.7" width="113.6" height="10.4" fill="#0000ff"/>
<rect x="376.9" y="245" width="113.1" height="10.7" fill="#ff0000"/>
<text class="leg" x="556.8" y="173" textLength="658.6" lengthAdjust="spacingAndGlyphs">PDTSDTBTDI-DMO</text>
<text class="leg" x="553.7" y="276">PDTSDTBTDI-8</text>
<text class="tick" y="1225"><tspan x="357.9">-</tspan><tspan x="382">2</tspan></text>
<text class="tick" y="1225"><tspan x="826.9">-</tspan><tspan x="853.5" clip-path="url(#one1)">1</tspan></text>
<text class="tick" x="1306" y="1225">0</text>
<text class="tick" x="1777.3" y="1225" clip-path="url(#one2)">1</text>
<text class="lab" y="1356"><tspan x="632.1" textLength="323.3" lengthAdjust="spacingAndGlyphs">Potential</tspan> <tspan x="979.5" textLength="196.7" lengthAdjust="spacingAndGlyphs">(mV)</tspan> <tspan x="1197.1" font-style="italic" textLength="79.9" lengthAdjust="spacingAndGlyphs">vs</tspan> <tspan x="1297.4" textLength="227.7" lengthAdjust="spacingAndGlyphs">Ag/Ag</tspan><tspan x="1524.6" y="1319.6" font-size="72.5">+</tspan></text>
<text class="lab" transform="translate(104.5,814.7) rotate(-90)">Current (a.u.)</text>
</svg>
</body></html>
